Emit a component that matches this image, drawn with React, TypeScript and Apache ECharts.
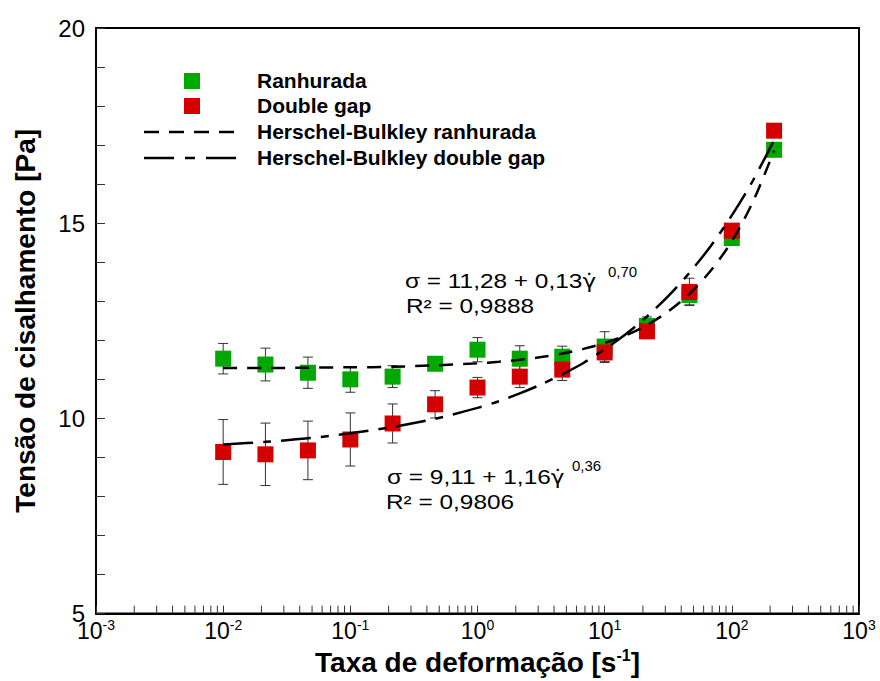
import React, { useEffect, useRef } from "react";
import * as echarts from "echarts";

// Shear rate (s^-1) of the measured points
const shearRates = [0.01, 0.0215, 0.0464, 0.1, 0.215, 0.464, 1, 2.15, 4.64, 10, 21.5, 46.4, 100, 215];
// Measured shear stress (Pa)
const ranhurada = [11.53, 11.38, 11.17, 11.0, 11.07, 11.4, 11.76, 11.53, 11.58, 11.84, 12.37, 13.16, 14.62, 16.88];
const ranhuradaErr = [0.39, 0.42, 0.4, 0.33, 0.28, 0.15, 0.31, 0.33, 0.27, 0.38, 0.23, 0.25, 0.1, 0.1];
const doubleGap = [9.14, 9.08, 9.18, 9.46, 9.87, 10.36, 10.79, 11.07, 11.25, 11.69, 12.23, 13.24, 14.81, 17.37];
const doubleGapErr = [0.83, 0.8, 0.75, 0.68, 0.5, 0.35, 0.26, 0.28, 0.28, 0.26, 0.15, 0.35, 0.1, 0.1];

// Herschel-Bulkley fit curves
const fitRates = [0.01, 0.0215, 0.0464, 0.1, 0.215, 0.464, 1, 1.47, 2.15, 3.16, 4.64, 6.81, 10, 14.7, 21.5, 31.6, 46.4, 68.1, 100, 147, 215];
const fitRanhurada = [11.29, 11.29, 11.3, 11.31, 11.32, 11.36, 11.41, 11.45, 11.5, 11.57, 11.66, 11.78, 11.93, 12.13, 12.39, 12.74, 13.19, 13.78, 14.54, 15.56, 16.86];
const fitDoubleGap = [9.33, 9.4, 9.49, 9.62, 9.78, 9.99, 10.27, 10.44, 10.64, 10.87, 11.13, 11.42, 11.77, 12.16, 12.61, 13.13, 13.73, 14.41, 15.2, 16.1, 17.13];

// Axis ticks
const decades = [0.001, 0.01, 0.1, 1, 10, 100];
const minorMultipliers = [2, 3, 4, 5, 6, 7, 8, 9];

const seriesNames = ["Ranhurada", "Double gap", "Herschel-Bulkley ranhurada", "Herschel-Bulkley double gap"];

const FONT = '"Liberation Sans", Arial, Helvetica, sans-serif';
const GREEK = '"DejaVu Sans", "Noto Sans", sans-serif';
const GREEN = "#00a800";
const RED = "#d40000";

export default function App() {
  const ref = useRef<HTMLDivElement>(null);

  useEffect(() => {
    const chart = echarts.init(ref.current as HTMLDivElement, null, { renderer: "svg" });

    const errRender = (_params: any, api: any) => {
      const x = api.value(0);
      const top = api.coord([x, api.value(2)]);
      const bot = api.coord([x, api.value(1)]);
      const hw = 5;
      const style = { stroke: "#333", lineWidth: 1 };
      return {
        type: "group",
        children: [
          { type: "line", shape: { x1: top[0], y1: top[1], x2: bot[0], y2: bot[1] }, style },
          { type: "line", shape: { x1: top[0] - hw, y1: top[1], x2: top[0] + hw, y2: top[1] }, style },
          { type: "line", shape: { x1: bot[0] - hw, y1: bot[1], x2: bot[0] + hw, y2: bot[1] }, style },
        ],
      };
    };

    const minorTickRender = (_params: any, api: any) => {
      const p = api.coord([api.value(0), api.value(1)]);
      return {
        type: "line",
        shape: { x1: p[0], y1: p[1], x2: p[0], y2: p[1] - 8 },
        style: { stroke: "#333", lineWidth: 1 },
      };
    };

    const minorTicks: number[][] = [];
    decades.forEach((d) => minorMultipliers.forEach((m) => minorTicks.push([m * d, 5])));

    const legendText = (text: string, y: number) => ({
      type: "text",
      x: 257,
      y,
      scaleX: 1.05,
      style: {
        text,
        font: `bold 20px ${FONT}`,
        fill: "#000",
        align: "left",
        verticalAlign: "middle",
      },
    });

    const annot = (text: string, x: number, y: number, size: number, sx: number) => ({
      type: "text",
      x,
      y,
      scaleX: sx,
      style: {
        text,
        font: `${size}px ${FONT}`,
        fill: "#000",
        align: "left",
        verticalAlign: "middle",
        rich: {
          t: { fontFamily: FONT, fontSize: size, fill: "#000" },
          g: { fontFamily: GREEK, fontSize: size - 1, fill: "#000" },
        },
      },
    });

    chart.setOption({
      animation: false,
      grid: {
        left: 96,
        right: 21,
        top: 28,
        bottom: 60,
        show: true,
        borderColor: "#000",
        borderWidth: 2,
        backgroundColor: "transparent",
      },
      xAxis: {
        type: "log",
        logBase: 10,
        min: 0.001,
        max: 1000,
        name: "{t|Taxa de deformação [s}{e|-1}{t|]}",
        nameLocation: "middle",
        nameGap: 32,
        nameTextStyle: {
          rich: {
            t: { fontFamily: FONT, fontWeight: "bold", fontSize: 28, color: "#000", lineHeight: 30 },
            e: { fontFamily: FONT, fontWeight: "bold", fontSize: 16, color: "#000", verticalAlign: "top", lineHeight: 16 },
          },
        },
        axisLine: { show: true, onZero: false, lineStyle: { color: "#000", width: 2 } },
        axisTick: { show: true, inside: true, length: 8, lineStyle: { color: "#333", width: 1 } },
        splitLine: { show: false },
        axisLabel: {
          margin: 4,
          formatter: (v: number) => `{b|10}{e|${Math.round(Math.log10(v))}}`,
          rich: {
            b: { fontFamily: FONT, fontSize: 23, color: "#000", lineHeight: 26 },
            e: { fontFamily: FONT, fontSize: 14, color: "#000", verticalAlign: "top", lineHeight: 14 },
          },
        },
      },
      yAxis: {
        type: "value",
        min: 5,
        max: 20,
        interval: 5,
        name: "Tensão de cisalhamento [Pa]",
        nameLocation: "middle",
        nameGap: 57,
        nameRotate: 90,
        nameTextStyle: { fontFamily: FONT, fontWeight: "bold", fontSize: 28, color: "#000" },
        axisLine: { show: true, onZero: false, lineStyle: { color: "#000", width: 2 } },
        axisTick: { show: true, inside: true, length: 9, lineStyle: { color: "#333", width: 1 } },
        minorTick: { show: true, splitNumber: 5, length: 9, lineStyle: { color: "#333", width: 1 } },
        splitLine: { show: false },
        axisLabel: { fontFamily: FONT, fontSize: 24, color: "#000", margin: 11 },
      },
      series: [
        {
          type: "custom",
          name: "minor-x-ticks",
          renderItem: minorTickRender,
          data: minorTicks,
          encode: { x: 0, y: 1 },
          clip: false,
          silent: true,
          z: 1,
        },
        {
          type: "custom",
          name: "err-ranhurada",
          renderItem: errRender,
          data: shearRates.map((x, i) => [x, ranhurada[i] - ranhuradaErr[i], ranhurada[i] + ranhuradaErr[i]]),
          encode: { x: 0, y: [1, 2] },
          z: 1,
        },
        {
          type: "custom",
          name: "err-double",
          renderItem: errRender,
          data: shearRates.map((x, i) => [x, doubleGap[i] - doubleGapErr[i], doubleGap[i] + doubleGapErr[i]]),
          encode: { x: 0, y: [1, 2] },
          z: 1,
        },
        {
          type: "scatter",
          name: seriesNames[0],
          symbol: "rect",
          symbolSize: 16,
          itemStyle: { color: GREEN, opacity: 1 },
          data: shearRates.map((x, i) => [x, ranhurada[i]]),
          z: 2,
        },
        {
          type: "scatter",
          name: seriesNames[1],
          symbol: "rect",
          symbolSize: 16,
          itemStyle: { color: RED, opacity: 1 },
          data: shearRates.map((x, i) => [x, doubleGap[i]]),
          z: 3,
        },
        {
          type: "line",
          name: seriesNames[2],
          showSymbol: false,
          symbol: "none",
          smooth: 0.3,
          lineStyle: { color: "#000", width: 2.5, type: [14, 10] },
          data: fitRates.map((x, i) => [x, fitRanhurada[i]]),
          z: 4,
        },
        {
          type: "line",
          name: seriesNames[3],
          showSymbol: false,
          symbol: "none",
          smooth: 0.3,
          lineStyle: { color: "#000", width: 2.5, type: [30, 10, 8, 10] },
          data: fitRates.map((x, i) => [x, fitDoubleGap[i]]),
          z: 4,
        },
      ],
      graphic: {
        elements: [
          { type: "rect", shape: { x: 184, y: 73, width: 16, height: 16 }, style: { fill: GREEN } },
          { type: "rect", shape: { x: 184, y: 98, width: 16, height: 16 }, style: { fill: RED } },
          {
            type: "line",
            shape: { x1: 144, y1: 132, x2: 238, y2: 132 },
            style: { stroke: "#000", lineWidth: 2.5, lineDash: [15, 10] },
          },
          {
            type: "line",
            shape: { x1: 144, y1: 158, x2: 238, y2: 158 },
            style: { stroke: "#000", lineWidth: 2.5, lineDash: [30, 11, 10, 11] },
          },
          legendText(seriesNames[0], 81),
          legendText(seriesNames[1], 106),
          legendText(seriesNames[2], 132),
          legendText(seriesNames[3], 158),
          annot("{t|σ = 11,28 + 0,13}{g|γ̇}", 405, 281, 20, 1.22),
          annot("0,70", 608, 271, 15, 1.0),
          annot("R² = 0,9888", 406, 306, 20, 1.22),
          annot("{t|σ = 9,11 + 1,16}{g|γ̇}", 387, 477, 20, 1.22),
          annot("0,36", 572, 465, 15, 1.0),
          annot("R² = 0,9806", 386, 502, 20, 1.22),
        ],
      },
    });

    return () => chart.dispose();
  }, []);

  return (
    <div
      ref={ref}
      style={{ position: "fixed", left: 0, top: 0, width: 880, height: 681, background: "#fff" }}
    />
  );
}
